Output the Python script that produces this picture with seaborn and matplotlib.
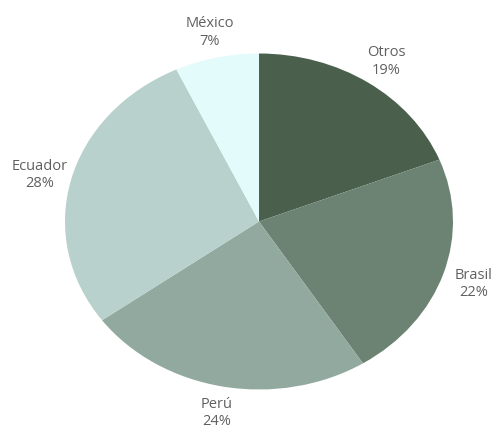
import matplotlib
matplotlib.use("Agg")
import matplotlib.pyplot as plt
import matplotlib.transforms as mtransforms
import seaborn as sns

# Share by country, listed clockwise from 12 o'clock
countries = ["Otros", "Brasil", "Perú", "Ecuador", "México"]
shares = [19, 22, 24, 28, 7]
slice_colors = ["#4b5f4d", "#6c8373", "#91a99f", "#b8d1cc", "#e4fbfb"]

sns.set_theme(style="white")
plt.rcParams["font.family"] = ["Open Sans", "DejaVu Sans"]

W, H = 493, 430
fig = plt.figure(figsize=(W / 100, H / 100), dpi=100)
fig.patch.set_facecolor("white")

# Elliptical pie: the axes box spans the ellipse's bounding box
cx, cy, rx, ry = 259, 221.5, 194, 168
ax = fig.add_axes([(cx - rx) / W, 1 - (cy + ry) / H, 2 * rx / W, 2 * ry / H])

palette = sns.color_palette(slice_colors)
labels = [f"{c}\n{v}%" for c, v in zip(countries, shares)]
wedges, texts = ax.pie(
    shares,
    labels=labels,
    colors=palette,
    startangle=90,
    counterclock=False,
    labeldistance=1.165,
    wedgeprops=dict(linewidth=0),
    textprops=dict(fontsize=10.5, color="#606060", linespacing=1.22),
)
# nudge the labels slightly downward, keeping the bottom one inside the canvas
shift = mtransforms.ScaledTranslation(0, -2 / 100, fig.dpi_scale_trans)
lift = mtransforms.ScaledTranslation(0, 1 / 100, fig.dpi_scale_trans)
for t in texts:
    t.set_horizontalalignment("center")
    t.set_verticalalignment("center")
    t.set_multialignment("center")
    t.set_clip_on(False)
    _, y = t.get_position()
    t.set_transform(t.get_transform() + (lift if y < -1 else shift))

ax.set_aspect("auto")
ax.set_xlim(-1, 1)
ax.set_ylim(-1, 1)
ax.axis("off")

fig.savefig("out.png", dpi=100, facecolor="white")
